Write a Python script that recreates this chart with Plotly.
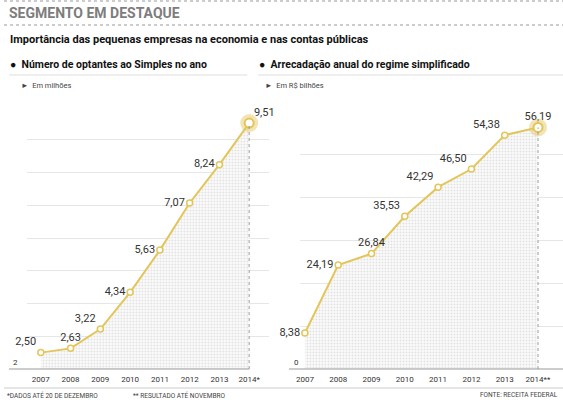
import plotly.graph_objects as go

W, H = 563, 400

anos_esq = ["2007", "2008", "2009", "2010", "2011", "2012", "2013", "2014*"]
optantes = [2.50, 2.63, 3.22, 4.34, 5.63, 7.07, 8.24, 9.51]
pos_esq = ["top left", "top center", "top left", "middle left", "middle left",
           "middle left", "middle left", "top right"]

anos_dir = ["2007", "2008", "2009", "2010", "2011", "2012", "2013", "2014**"]
arrecadacao = [8.38, 24.19, 26.84, 35.53, 42.29, 46.50, 54.38, 56.19]
pos_dir = ["middle left", "middle left", "top center", "top left", "top left",
           "top left", "top left", "top center"]

GOLD = "#e3c55a"
FONT = "Roboto, Liberation Sans, sans-serif"


def px(x):
    return x / W


def py(y):
    return 1 - y / H


def fmt(v):
    return f"{v:.2f}".replace(".", ",")


fig = go.Figure()


def add_series(anos, valores, posicoes, xa, ya, base):
    fig.add_trace(go.Scatter(
        x=anos, y=valores, xaxis=xa, yaxis=ya,
        mode="lines+markers+text",
        line=dict(color=GOLD, width=2),
        marker=dict(size=6, color="white", line=dict(color=GOLD, width=1.5)),
        text=[fmt(v) for v in valores], textposition=posicoes,
        textfont=dict(family=FONT, size=11, color="#333"),
        fill="tozeroy", fillcolor="rgba(0,0,0,0)",
        fillpattern=dict(shape=".", fgcolor="#c4c4c4", bgcolor="#fbfbfb",
                         size=3, solidity=0.3),
        cliponaxis=False, hoverinfo="skip", showlegend=False,
    ))
    # destaque do ultimo ponto
    fig.add_trace(go.Scatter(
        x=anos[-1:], y=valores[-1:], xaxis=xa, yaxis=ya, mode="markers",
        marker=dict(size=18, color="rgba(227,197,90,0.45)"),
        cliponaxis=False, hoverinfo="skip", showlegend=False,
    ))
    fig.add_trace(go.Scatter(
        x=anos[-1:], y=valores[-1:], xaxis=xa, yaxis=ya, mode="markers",
        marker=dict(size=9, color="white", line=dict(color=GOLD, width=2)),
        cliponaxis=False, hoverinfo="skip", showlegend=False,
    ))
    # linhas verticais pontilhadas
    for a, v in zip(anos, valores):
        fig.add_shape(type="line", xref=xa, yref=ya, x0=a, x1=a, y0=base, y1=v,
                      line=dict(color="#888", width=0.8, dash="dot"), layer="above")


add_series(anos_esq, optantes, pos_esq, "x", "y", 2)
add_series(anos_dir, arrecadacao, pos_dir, "x2", "y2", 0)

eixo_x = dict(type="category", showgrid=False, zeroline=False, showline=False,
              ticks="", tickfont=dict(family=FONT, size=8, color="#333"),
              ticklabelstandoff=4, fixedrange=True)
fig.update_layout(
    width=W, height=H, margin=dict(l=0, r=0, t=0, b=0),
    paper_bgcolor="white", plot_bgcolor="white",
    font=dict(family=FONT, color="#222"),
    xaxis=dict(eixo_x, domain=[px(23), px(267)], range=[-0.47, 7.67]),
    yaxis=dict(domain=[py(369), py(107)], range=[2, 10], dtick=1,
               showgrid=True, gridcolor="#e6e6e6", gridwidth=1,
               zeroline=False, showticklabels=False),
    xaxis2=dict(eixo_x, domain=[px(298), 1], range=[-0.15, 7.75], anchor="y2"),
    yaxis2=dict(domain=[py(369), py(111)], range=[0, 60], dtick=10, anchor="x2",
                showgrid=True, gridcolor="#e6e6e6", gridwidth=1,
                zeroline=False, showticklabels=False),
)

# linhas de base e regras
linhas = [
    (px(5), px(247), py(369), "#999", 1, "solid"),
    (px(287), 1, py(369), "#999", 1, "solid"),
    (0, 1, py(1), "#999", 1, "dot"),
    (0, 1, py(25), "#999", 1, "dot"),
    (px(5), px(245), py(75), "#ddd", 1, "solid"),
    (px(256), 1, py(75), "#ddd", 1, "solid"),
    (0, 1, py(388), "#ccc", 1, "solid"),
]
for x0, x1, y, cor, w, dash in linhas:
    fig.add_shape(type="line", xref="paper", yref="paper", x0=x0, x1=x1,
                  y0=y, y1=y, line=dict(color=cor, width=w, dash=dash))

textos = [
    ("<b>SEGMENTO EM DESTAQUE</b>", 3, 13, 14, "#7d7d7d", "left"),
    ("<b>Importância das pequenas empresas na economia e nas contas públicas</b>",
     4, 40, 11, "#111", "left"),
    ("<b>●  Número de optantes ao Simples no ano</b>", 4, 64, 10.5, "#111", "left"),
    ("<b>●  Arrecadação anual do regime simplificado</b>", 255, 64, 10.5, "#111", "left"),
    ("►  Em milhões", 15, 85, 7.5, "#444", "left"),
    ("►  Em R$ bilhões", 261, 85, 7.5, "#444", "left"),
    ("2", 7, 362, 8, "#333", "left"),
    ("0", 290, 362, 8, "#333", "left"),
    ("*DADOS ATÉ 20 DE DEZEMBRO", 1, 395, 6.5, "#444", "left"),
    ("** RESULTADO ATÉ NOVEMBRO", 128, 395, 6.5, "#444", "left"),
    ("FONTE: RECEITA FEDERAL", 560, 395, 6.5, "#444", "right"),
]
for t, x, y, s, cor, al in textos:
    fig.add_annotation(text=t, xref="paper", yref="paper", x=px(x), y=py(y),
                       xanchor=al, yanchor="middle", showarrow=False,
                       font=dict(family=FONT, size=s, color=cor))

fig.write_html("out.html", config={"displayModeBar": False},
               post_script="document.body.style.margin = '0';")
